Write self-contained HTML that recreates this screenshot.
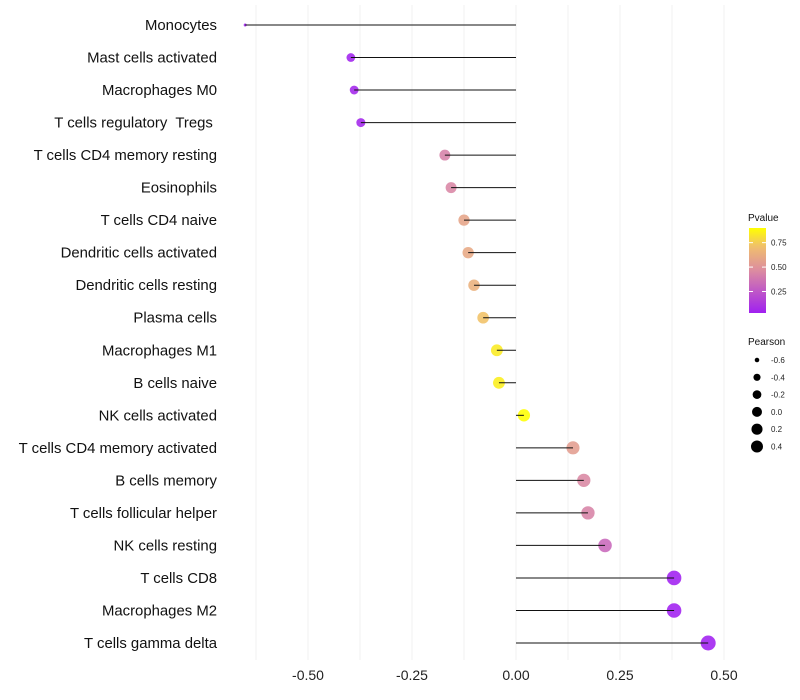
<!DOCTYPE html>
<html><head><meta charset="utf-8"><style>
body{margin:0;background:#fff;font-family:"Liberation Sans",sans-serif}
svg{display:block}
text{white-space:pre}
</style></head><body>
<svg id="chart" width="800" height="700"></svg>
<script>
const categories=["Monocytes","Mast cells activated","Macrophages M0","T cells regulatory  Tregs ","T cells CD4 memory resting","Eosinophils","T cells CD4 naive","Dendritic cells activated","Dendritic cells resting","Plasma cells","Macrophages M1","B cells naive","NK cells activated","T cells CD4 memory activated","B cells memory","T cells follicular helper","NK cells resting","T cells CD8","Macrophages M2","T cells gamma delta"];
const pearson=[-0.651,-0.397,-0.389,-0.373,-0.171,-0.156,-0.125,-0.115,-0.101,-0.079,-0.046,-0.041,0.019,0.137,0.163,0.173,0.214,0.380,0.380,0.462];
const pvalues=[0.03,0.04,0.05,0.05,0.42,0.44,0.58,0.60,0.64,0.72,0.84,0.85,0.9,0.55,0.45,0.43,0.32,0.03,0.03,0.03];
const xTicks=[-0.5,-0.25,0,0.25,0.5];
const xTickLabels=["-0.50","-0.25","0.00","0.25","0.50"];
const colorTicks=[0.25,0.5,0.75];
const sizeTicks=[-0.6,-0.4,-0.2,0.0,0.2,0.4];
const sizeTickLabels=["-0.6","-0.4","-0.2","0.0","0.2","0.4"];

const NS="http://www.w3.org/2000/svg";
const svg=document.getElementById('chart');
function mk(t,a,p){const e=document.createElementNS(NS,t);for(const k in a)e.setAttribute(k,a[k]);(p||svg).appendChild(e);return e;}
const xs=v=>516+v*416;
const ys=i=>25+i*(618/(categories.length-1));
const pMin=0.03,pMax=0.9;
const stops=[[0,[160,32,240]],[0.5,[220,140,160]],[0.78,[240,190,110]],[1,[255,255,0]]];
function col(p){let t=Math.max(0,Math.min(1,(p-pMin)/(pMax-pMin)));for(let i=1;i<stops.length;i++){if(t<=stops[i][0]){const a=stops[i-1],b=stops[i];const f=(t-a[0])/(b[0]-a[0]);const c=a[1].map((v,j)=>Math.round(v+(b[1][j]-v)*f));return `rgb(${c.join(',')})`;}}return 'rgb(255,255,0)';}
const vMin=Math.min(...pearson),vMax=Math.max(...pearson);
const rad=v=>{const t=Math.max(0,Math.min(1,(v-vMin)/(vMax-vMin)));return 1.5+6*Math.sqrt(t);};

// gridlines
for(let v=-0.625;v<=0.5001;v+=0.125){const g=mk('line',{x1:xs(v),x2:xs(v),y1:5,y2:660,stroke:'#f2f2f2','stroke-width':1});

}
xTicks.forEach((v,i)=>{const t=mk('text',{x:xs(v),y:680,'text-anchor':'middle','font-size':14,fill:'#222'});t.textContent=xTickLabels[i];

});

categories.forEach((c,i)=>{
const y=ys(i),v=pearson[i];
const lab=mk('text',{x:217,y:y+5,'text-anchor':'end','font-size':14.9,fill:'#111'});lab.textContent=c;


const pt=mk('circle',{cx:xs(v),cy:y,r:rad(v),fill:col(pvalues[i]),'fill-opacity':0.88});


const ln=mk('line',{x1:xs(0),x2:xs(v),y1:y,y2:y,stroke:'#111','stroke-width':1});


});

// color legend
const lg=mk('g',{});


const tt=mk('text',{x:748,y:221,'font-size':10,fill:'#111'},lg);tt.textContent='Pvalue';
const defs=mk('defs',{});const gr=mk('linearGradient',{id:'cg',x1:0,y1:1,x2:0,y2:0},defs);
for(let k=0;k<=20;k++){const p=pMin+(pMax-pMin)*k/20;mk('stop',{offset:k/20,'stop-color':col(p)},gr);}
mk('rect',{x:749,y:228,width:17,height:85,fill:'url(#cg)'},lg);
const cy=p=>313-(p-pMin)/(pMax-pMin)*85;
colorTicks.forEach(p=>{mk('line',{x1:749,x2:753,y1:cy(p),y2:cy(p),stroke:'#fff'},lg);mk('line',{x1:762,x2:766,y1:cy(p),y2:cy(p),stroke:'#fff'},lg);
const t=mk('text',{x:771,y:cy(p)+3,'font-size':8,fill:'#222'},lg);t.textContent=p.toFixed(2);});

const sg=mk('g',{});


const st=mk('text',{x:748,y:345,'font-size':10,fill:'#111'},sg);st.textContent='Pearson';
sizeTicks.forEach((v,i)=>{const y=360+i*17.3;mk('circle',{cx:757,cy:y,r:rad(v)*0.82,fill:'#000'},sg);
const t=mk('text',{x:771,y:y+3,'font-size':8,fill:'#222'},sg);t.textContent=sizeTickLabels[i];});
</script>
</body></html>
